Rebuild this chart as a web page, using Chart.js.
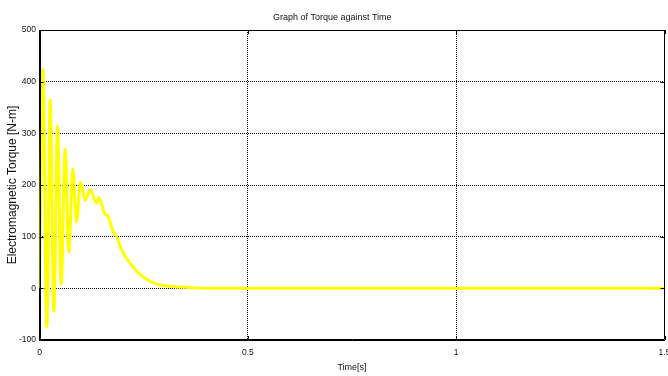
<!DOCTYPE html>
<html>
<head>
<meta charset="utf-8">
<script src="https://cdn.jsdelivr.net/npm/chart.js@4.4.1/dist/chart.umd.min.js"></script>
<style>
  html, body { margin: 0; padding: 0; background: #ffffff; }
  #wrap { width: 668px; height: 376px; position: relative; }
</style>
</head>
<body>
<div id="wrap"><canvas id="c" width="668" height="376"></canvas></div>
<script>
// Time samples [s] (extrema and shape points)
const timeSeconds = [0, 0.008, 0.0176, 0.0256, 0.0344, 0.0432, 0.052, 0.0616, 0.0704, 0.080, 0.0888, 0.0984, 0.1096, 0.1224, 0.136, 0.1424, 0.156, 0.164, 0.176, 0.1856, 0.196, 0.216, 0.236, 0.256, 0.280, 0.312, 0.352, 0.408, 0.6, 1.0, 1.5];
// Electromagnetic torque [N-m]
const torqueValues = [0, 424, -75, 365, -44, 314, 8, 269, 70, 231, 128, 206, 171, 191, 165, 176, 145, 140, 111, 99, 76, 50, 31, 18, 8.5, 4, 2, 0, 0, 0, 0];
// Axis ticks
const xTickValues = [0, 0.5, 1, 1.5];
const xTickLabels = ['0', '0.5', '1', '1.5'];
const yTickValues = [-100, 0, 100, 200, 300, 400, 500];
const yTickLabels = ['-100', '0', '100', '200', '300', '400', '500'];

const titleText = 'Graph of Torque against Time';
const xAxisLabel = 'Time[s]';
const yAxisLabel = 'Electromagnetic Torque [N-m]';

const sansFont = "'Liberation Sans', Arial, sans-serif";

const points = timeSeconds.map((t, i) => ({ x: t, y: torqueValues[i] }));

// Frame + MATLAB-style inward tick marks on all four sides
const framePlugin = {
  id: 'frame',
  afterDatasetsDraw(chart) {
    const { ctx, chartArea: a, scales } = chart;
    ctx.save();
    ctx.strokeStyle = '#000';
    ctx.lineWidth = 1;
    ctx.beginPath();
    ctx.rect(Math.round(a.left) + 0.5, Math.round(a.top) + 0.5,
             Math.round(a.right) - Math.round(a.left) - 1, Math.round(a.bottom) - Math.round(a.top) - 1);
    ctx.stroke();
    const tl = 4;
    ctx.beginPath();
    xTickValues.forEach(v => {
      const px = Math.round(scales.x.getPixelForValue(v)) + 0.5;
      ctx.moveTo(px, a.bottom); ctx.lineTo(px, a.bottom - tl);
      ctx.moveTo(px, a.top); ctx.lineTo(px, a.top + tl);
    });
    yTickValues.forEach(v => {
      const py = Math.round(scales.y.getPixelForValue(v)) + 0.5;
      ctx.moveTo(a.left, py); ctx.lineTo(a.left + tl, py);
      ctx.moveTo(a.right, py); ctx.lineTo(a.right - tl, py);
    });
    ctx.stroke();
    ctx.restore();
  }
};

const bgPlugin = {
  id: 'bg',
  beforeDraw(chart) {
    const { ctx, width, height } = chart;
    ctx.save();
    ctx.fillStyle = '#ffffff';
    ctx.fillRect(0, 0, width, height);
    ctx.restore();
  }
};

new Chart(document.getElementById('c'), {
  type: 'line',
  data: {
    datasets: [{
      data: points,
      borderColor: '#ffff00',
      borderWidth: 3,
      pointRadius: 0,
      fill: false,
      cubicInterpolationMode: 'monotone'
    }]
  },
  options: {
    responsive: false,
    animation: false,
    devicePixelRatio: 1,
    layout: { padding: { left: 0, right: 3.5, top: 0, bottom: 0 } },
    plugins: {
      legend: { display: false },
      tooltip: { enabled: false },
      title: {
        display: true,
        text: titleText,
        color: '#111',
        font: { family: sansFont, size: 9, weight: 'normal', lineHeight: 1.2 },
        padding: { top: 12, bottom: 7.2 }
      }
    },
    scales: {
      x: {
        type: 'linear',
        min: 0, max: 1.5,
        afterBuildTicks(scale) { scale.ticks = xTickValues.map(v => ({ value: v })); },
        afterFit(scale) { scale.height = 36; scale.paddingLeft = 0; scale.paddingRight = 0; },
        ticks: {
          color: '#111',
          padding: 8,
          maxRotation: 0,
          autoSkip: false,
          font: { family: sansFont, size: 8.5 },
          callback: (v, i) => xTickLabels[i]
        },
        grid: {
          color: '#000',
          lineWidth: 1,
          drawTicks: false
        },
        border: { display: true, color: '#000', width: 1, dash: [1, 1] },
        title: {
          display: true,
          text: xAxisLabel,
          color: '#111',
          font: { family: sansFont, size: 9, lineHeight: 1.2 },
          padding: { top: 0, bottom: 3.5 }
        }
      },
      y: {
        type: 'linear',
        min: -100, max: 500,
        afterBuildTicks(scale) { scale.ticks = yTickValues.map(v => ({ value: v })); },
        afterFit(scale) { scale.width = 39.5; scale.paddingTop = 0; scale.paddingBottom = 0; },
        ticks: {
          color: '#111',
          padding: 3.5,
          autoSkip: false,
          font: { family: sansFont, size: 8.5 },
          callback: (v, i) => yTickLabels[i]
        },
        grid: {
          color: '#000',
          lineWidth: 1,
          drawTicks: false
        },
        border: { display: true, color: '#000', width: 1, dash: [1, 1] },
        title: {
          display: true,
          text: yAxisLabel,
          color: '#111',
          font: { family: sansFont, size: 12, lineHeight: 1.2 },
          padding: { top: 5.8, bottom: 0 }
        }
      }
    }
  },
  plugins: [bgPlugin, framePlugin]
});
</script>
</body>
</html>
